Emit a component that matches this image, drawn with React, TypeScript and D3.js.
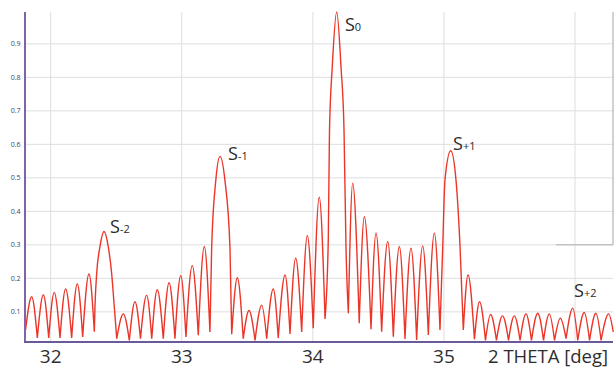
import React from 'react';
import * as d3 from 'd3';

const xTicks = [32, 33, 34, 35, 36];
const xTickLabels = ['32', '33', '34', '35', ''];
const yTicks = [0.1, 0.2, 0.3, 0.4, 0.5, 0.6, 0.7, 0.8, 0.9];
const yTickLabels = ['0.1', '0.2', '0.3', '0.4', '0.5', '0.6', '0.7', '0.8', '0.9'];
const axisTitle = '2 THETA [deg]';

// measured curve nodes: 2-theta (deg), intensity (normalised)
const curveTheta = [
  31.808, 31.855, 31.898, 31.944, 31.985, 32.027, 32.071, 32.114, 32.160, 32.203,
  32.244, 32.292, 32.333, 32.338, 32.351, 32.376, 32.407, 32.439, 32.465, 32.485,
  32.504, 32.554, 32.600, 32.643, 32.685, 32.732, 32.771, 32.813, 32.859, 32.903,
  32.948, 32.992, 33.032, 33.080, 33.126, 33.172, 33.215, 33.228, 33.259, 33.292,
  33.330, 33.368, 33.381, 33.424, 33.469, 33.513, 33.559, 33.610, 33.648, 33.698,
  33.736, 33.788, 33.826, 33.869, 33.915, 33.958, 34.003, 34.049, 34.093, 34.118,
  34.127, 34.148, 34.182, 34.215, 34.238, 34.253, 34.271, 34.304, 34.354, 34.393,
  34.444, 34.482, 34.525, 34.571, 34.614, 34.660, 34.703, 34.749, 34.792, 34.838,
  34.881, 34.927, 34.970, 34.991, 35.008, 35.052, 35.092, 35.123, 35.148, 35.184,
  35.233, 35.272, 35.317, 35.356, 35.401, 35.447, 35.493, 35.537, 35.581, 35.626,
  35.668, 35.716, 35.760, 35.804, 35.844, 35.888, 35.932, 35.983, 36.021, 36.071,
  36.111, 36.160, 36.199, 36.257, 36.292,
];
const curveIntensity = [
  0.045, 0.145, 0.022, 0.151, 0.022, 0.158, 0.022, 0.168, 0.022, 0.183,
  0.025, 0.213, 0.041, 0.116, 0.215, 0.295, 0.340, 0.295, 0.215, 0.116,
  0.020, 0.094, 0.015, 0.130, 0.020, 0.150, 0.020, 0.166, 0.020, 0.187,
  0.020, 0.208, 0.025, 0.238, 0.030, 0.295, 0.040, 0.290, 0.490, 0.564,
  0.490, 0.290, 0.033, 0.202, 0.020, 0.104, 0.015, 0.120, 0.020, 0.168,
  0.022, 0.210, 0.034, 0.260, 0.040, 0.327, 0.051, 0.442, 0.079, 0.320,
  0.640, 0.830, 0.995, 0.830, 0.640, 0.290, 0.096, 0.484, 0.066, 0.384,
  0.048, 0.335, 0.041, 0.310, 0.026, 0.295, 0.019, 0.290, 0.016, 0.297,
  0.031, 0.335, 0.046, 0.295, 0.494, 0.581, 0.494, 0.295, 0.046, 0.210,
  0.018, 0.130, 0.015, 0.092, 0.015, 0.088, 0.015, 0.088, 0.015, 0.094,
  0.015, 0.096, 0.015, 0.094, 0.015, 0.081, 0.020, 0.111, 0.015, 0.098,
  0.015, 0.096, 0.015, 0.094, 0.040,
];

const satelliteSubs = ['-2', '-1', '0', '+1', '+2'];
const satelliteTheta = [32.407, 33.292, 34.182, 35.052, 35.983];
const satelliteIntensity = [0.34, 0.564, 0.995, 0.581, 0.111];
// label offsets (px) from the peak
const labelDx = [6, 8, 8.3, 2.3, 1.3];
const labelDy = [1.6, 3.6, 19, -0.7, -11.2];

const W = 616;
const H = 369;
const left = 25;
const right = 613;
const top = 12;
const bottom = 342;

export default function App() {
  const x = d3.scaleLinear().domain([31.804, 36.29]).range([left, right]);
  const y = d3.scaleLinear().domain([0.01, 0.995]).range([bottom, top]);

  const nodes: [number, number][] = curveTheta.map((t, i) => [t, curveIntensity[i]]);
  const cusps: number[] = [0];
  for (let i = 1; i < nodes.length - 1; i++) {
    if (nodes[i][1] < nodes[i - 1][1] && nodes[i][1] < nodes[i + 1][1]) cusps.push(i);
  }
  cusps.push(nodes.length - 1);
  const line = d3
    .line<[number, number]>()
    .x((d) => x(d[0]))
    .y((d) => y(d[1]))
    .curve(d3.curveMonotoneX);
  let pathD = '';
  for (let k = 0; k < cusps.length - 1; k++) {
    const seg = nodes.slice(cusps[k], cusps[k + 1] + 1);
    pathD += line(seg) || '';
  }

  const font = "'Open Sans', 'DejaVu Sans', sans-serif";

  return (
    <svg
      width={W}
      height={H}
      style={{ position: 'absolute', left: 0, top: 0, background: '#fff' }}
      xmlns="http://www.w3.org/2000/svg"
    >
      <defs>
        <clipPath id="plotclip">
          <rect x={left} y={top - 2} width={right - left + 2} height={bottom - top + 2} />
        </clipPath>
      </defs>
      <rect x={0} y={0} width={W} height={H} fill="#fff" />
      {/* grid */}
      {yTicks.map((t) => (
        <line key={'gy' + t} x1={left} x2={right} y1={y(t)} y2={y(t)} stroke="#dedede" strokeWidth={1} />
      ))}
      {xTicks.map((t) => (
        <line key={'gx' + t} x1={x(t)} x2={x(t)} y1={top} y2={bottom} stroke="#dedede" strokeWidth={1} />
      ))}
      {/* stray frame on the right */}
      <line x1={right} x2={right} y1={top} y2={y(0.3)} stroke="#a5a5a5" strokeWidth={1} />
      <line x1={556} x2={right} y1={y(0.3)} y2={y(0.3)} stroke="#b0b0b0" strokeWidth={1} />

      {/* curve */}
      <path d={pathD} fill="none" stroke="#ec3529" strokeWidth={1.4} strokeLinejoin="round" clipPath="url(#plotclip)" />

      {/* axes */}
      <line x1={left} x2={left} y1={top} y2={bottom + 1} stroke="#8063a8" strokeWidth={2} />
      <line x1={left - 1} x2={right} y1={bottom} y2={bottom} stroke="#6a5a98" strokeWidth={2} />

      {/* y tick labels */}
      {yTicks.map((t, i) => (
        <text
          key={'yl' + t}
          x={20.5}
          y={y(t)}
          dy="0.35em"
          textAnchor="end"
          fontSize={7}
          fontFamily={font}
          fill="#3c3c6e"
        >
          {yTickLabels[i]}
        </text>
      ))}

      {/* x tick labels */}
      {xTicks.map((t, i) => (
        <text
          key={'xl' + t}
          x={x(t)}
          y={363}
          textAnchor="middle"
          fontSize={19}
          fontFamily={font}
          fill="#2e2e2e"
        >
          {xTickLabels[i]}
        </text>
      ))}
      <text x={488} y={363} fontSize={18.5} fontFamily={font} fill="#2e2e2e">
        {axisTitle}
      </text>

      {/* satellite labels */}
      {satelliteSubs.map((s, i) => (
        <text
          key={'s' + i}
          x={x(satelliteTheta[i]) + labelDx[i]}
          y={y(satelliteIntensity[i]) + labelDy[i]}
          fontSize={18}
          fontFamily={font}
          fill="#2a2a2a"
        >
          S<tspan fontSize={11}>{s}</tspan>
        </text>
      ))}
    </svg>
  );
}
